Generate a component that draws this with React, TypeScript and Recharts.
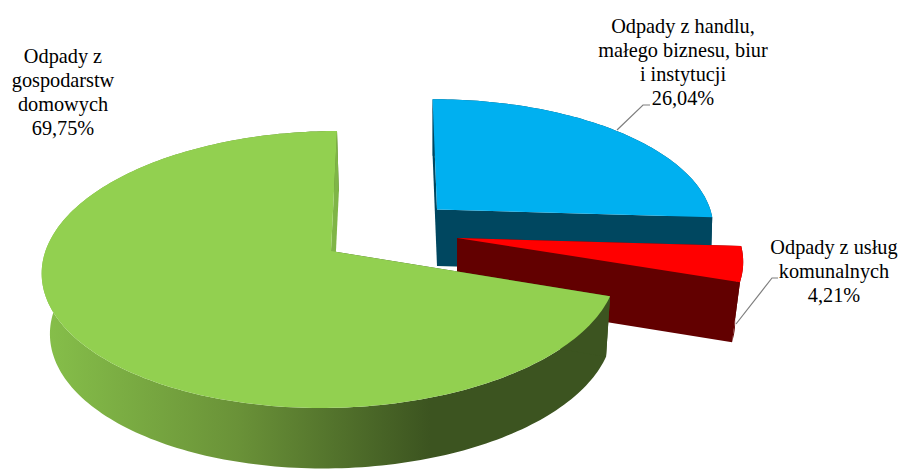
import React from 'react';
import { PieChart, Pie } from 'recharts';

// Share of municipal waste by source, in percent
const categories = [
  'Odpady z handlu, małego biznesu, biur i instytucji',
  'Odpady z usług komunalnych',
  'Odpady z gospodarstw domowych',
];
const shares = [26.04, 4.21, 69.75];
const shareLabels = ['26,04%', '4,21%', '69,75%'];
const labelLines = [
  ['Odpady z handlu,', 'małego biznesu, biur', 'i instytucji'],
  ['Odpady z usług', 'komunalnych'],
  ['Odpady z', 'gospodarstw', 'domowych'],
];
const topColors = ['#00B0F0', '#FF0000', '#92D050'];
const sideColors = ['#004760', '#620000', 'url(#greenSide)'];
const cutColors = ['#004760', '#620000', '#7FB547'];

// Perspective applied to the flat wheel, one entry per slice (exploded slices sit apart)
const sliceViews = [
  { dx: 106, dy: -41.5, r: 273.7, k: 125, shear: 0.7, tilt: 1.4, depth: 56.5, shrink: 0.006, drift: 0 },
  { dx: 126, dy: -13, r: 282.2, k: 132.3, shear: 9.4, tilt: 1.5, depth: 60, shrink: 0.028, drift: 0 },
  { dx: 0, dy: 0, r: 285, k: 136, shear: -11.3, tilt: 1.5, depth: 60.5, shrink: 0.0216, drift: 2 },
];
const PERSPECTIVE_V = 0.1335;

// Label anchors and leader lines
const labelViews = [
  { x: 683, y: 33, lead: [[617, 130], [643, 105], [650, 105]] },
  { x: 834, y: 254, lead: [[736, 324], [772, 278], [778, 278]] },
  { x: 63, y: 63, lead: null },
];
const LINE_HEIGHT = 24;

const table = categories.map((name, i) => ({ name, value: shares[i] }));

type Pt = [number, number];

function project(view: any, cx: number, cy: number, clock: number, radial: number, z: number): Pt {
  const a = (clock * Math.PI) / 180;
  const u = Math.sin(a) * radial;
  const v = -Math.cos(a) * radial;
  const w = 1 - PERSPECTIVE_V * v;
  const x = ((view.r * u + view.shear * v) / w) * (1 - view.shrink * z) + view.drift * z;
  const y = (view.k * v + view.tilt * u) / w;
  return [cx + view.dx + x, cy + view.dy + y + view.depth * z];
}

const toPath = (pts: Pt[]) =>
  'M' + pts.map((p) => `${p[0].toFixed(2)},${p[1].toFixed(2)}`).join('L') + 'Z';

function Slice3D(props: any) {
  const { cx, cy, startAngle, endAngle, index } = props;
  const i = index ?? 0;
  const view = sliceViews[i];
  const from = 90 - startAngle;
  const to = 90 - endAngle;
  const steps = Math.max(4, Math.ceil((to - from) / 1.2));
  const top: Pt[] = [];
  const bottom: Pt[] = [];
  for (let s = 0; s <= steps; s++) {
    const c = from + ((to - from) * s) / steps;
    top.push(project(view, cx, cy, c, 1, 0));
    bottom.push(project(view, cx, cy, c, 1, 1));
  }
  const apexTop = project(view, cx, cy, 0, 0, 0);
  const apexBottom = project(view, cx, cy, 0, 0, 1);
  // The rim wall is swept step by step so its outline follows the vertical tangents
  const wall = top
    .slice(1)
    .map((p, s) => toPath([top[s], p, bottom[s + 1], bottom[s]]))
    .join('');
  const startCut: Pt[] = [apexTop, top[0], bottom[0], apexBottom];
  const endCut: Pt[] = [apexTop, top[steps], bottom[steps], apexBottom];
  return (
    <g>
      <defs>
        <linearGradient id="greenSide" gradientUnits="userSpaceOnUse" x1="45" y1="0" x2="430" y2="0">
          <stop offset="0" stopColor="#86BF4A" />
          <stop offset="0.5" stopColor="#6A9238" />
          <stop offset="1" stopColor="#3C5420" />
        </linearGradient>
      </defs>
      <path d={wall} fill={sideColors[i]} />
      <path d={toPath(startCut)} fill={i === 2 ? '#3C5420' : sideColors[i]} />
      <path d={toPath(endCut)} fill={cutColors[i]} />
      <path d={toPath([apexTop, ...top])} fill={topColors[i]} />
    </g>
  );
}

function SliceLabel(props: any) {
  const i = props.index ?? 0;
  const view = labelViews[i];
  const lines = [...labelLines[i], shareLabels[i]];
  return (
    <g>
      {view.lead && (
        <polyline
          points={view.lead.map((p) => p.join(',')).join(' ')}
          fill="none"
          stroke="#7F7F7F"
          strokeWidth={1.2}
        />
      )}
      <text
        x={view.x}
        y={view.y}
        textAnchor="middle"
        fontFamily="'Liberation Serif', serif"
        fontSize={20.3}
        fill="#000000"
      >
        {lines.map((line, n) => (
          <tspan key={n} x={view.x} y={view.y + n * LINE_HEIGHT}>
            {line}
          </tspan>
        ))}
      </text>
    </g>
  );
}

export default function App() {
  return (
    <div style={{ position: 'absolute', left: 0, top: 0, width: 900, height: 469, background: '#fff', overflow: 'hidden' }}>
      <PieChart width={900} height={469} margin={{ top: 0, right: 0, bottom: 0, left: 0 }}>
        <Pie
          data={table}
          dataKey="value"
          nameKey="name"
          cx={331}
          cy={251}
          innerRadius={0}
          outerRadius={288}
          startAngle={90.9}
          endAngle={-269.1}
          stroke="none"
          isAnimationActive={false}
          shape={Slice3D}
          label={SliceLabel}
          labelLine={false}
        />
      </PieChart>
    </div>
  );
}
